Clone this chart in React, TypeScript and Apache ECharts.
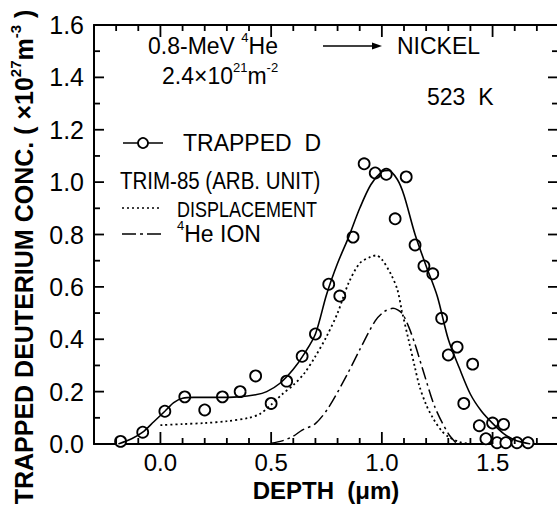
import React, { useEffect, useRef } from "react";
import * as echarts from "echarts";

// Depth (µm) vs. trapped deuterium concentration (10^27 m^-3)
const trappedD: [number, number][] = [
  [-0.18, 0.01], [-0.08, 0.045], [0.02, 0.125], [0.11, 0.18], [0.2, 0.13],
  [0.28, 0.18], [0.36, 0.2], [0.43, 0.26], [0.5, 0.155], [0.57, 0.24],
  [0.64, 0.335], [0.7, 0.42], [0.76, 0.61], [0.81, 0.565], [0.87, 0.79],
  [0.92, 1.07], [0.97, 1.035], [1.02, 1.03], [1.06, 0.86], [1.11, 1.02],
  [1.15, 0.76], [1.19, 0.68], [1.23, 0.65], [1.27, 0.48], [1.3, 0.34],
  [1.34, 0.37], [1.37, 0.155], [1.41, 0.305], [1.44, 0.07], [1.47, 0.02],
  [1.5, 0.08], [1.55, 0.075], [1.52, 0.005], [1.56, 0.005], [1.61, 0.005],
  [1.66, 0.005],
];

// Smooth fit through the measured profile
const fitCurve: [number, number][] = [
  [-0.19, 0.0], [-0.13, 0.02], [-0.08, 0.045], [-0.03, 0.085], [0.02, 0.125],
  [0.06, 0.158], [0.1, 0.175], [0.15, 0.178], [0.25, 0.178], [0.35, 0.18],
  [0.43, 0.188], [0.48, 0.2], [0.54, 0.232], [0.6, 0.285], [0.65, 0.345],
  [0.7, 0.42], [0.75, 0.57], [0.8, 0.69], [0.85, 0.79], [0.9, 0.9],
  [0.95, 0.99], [1.0, 1.04], [1.03, 1.045], [1.07, 1.01], [1.1, 0.95],
  [1.15, 0.8], [1.2, 0.68], [1.25, 0.565], [1.3, 0.4], [1.35, 0.29],
  [1.4, 0.19], [1.45, 0.125], [1.5, 0.079], [1.55, 0.04], [1.6, 0.015],
  [1.67, 0.0],
];

// TRIM-85 displacement profile (arbitrary units)
const displacement: [number, number][] = [
  [0.0, 0.072], [0.1, 0.076], [0.2, 0.08], [0.3, 0.087], [0.4, 0.1],
  [0.45, 0.115], [0.5, 0.15], [0.55, 0.19], [0.6, 0.225], [0.65, 0.27],
  [0.7, 0.335], [0.75, 0.41], [0.8, 0.5], [0.85, 0.615], [0.9, 0.69],
  [0.95, 0.715], [0.975, 0.72], [1.0, 0.705], [1.04, 0.65], [1.07, 0.59],
  [1.09, 0.51], [1.12, 0.4], [1.15, 0.29], [1.17, 0.22], [1.2, 0.15],
  [1.23, 0.1], [1.27, 0.05], [1.3, 0.028], [1.35, 0.008], [1.4, 0.0],
];

// TRIM-85 4He ion range profile (arbitrary units)
const heIon: [number, number][] = [
  [0.5, 0.003], [0.55, 0.012], [0.6, 0.03], [0.64, 0.053], [0.7, 0.078],
  [0.76, 0.14], [0.84, 0.26], [0.9, 0.36], [0.97, 0.47], [1.01, 0.505],
  [1.05, 0.518], [1.09, 0.5], [1.12, 0.45], [1.15, 0.38], [1.19, 0.27],
  [1.24, 0.14], [1.3, 0.04], [1.34, 0.0],
];

// Frame tick positions (every 0.1 µm, every 0.1 in concentration)
const depthTicks = [
  -0.2, -0.1, 0.0, 0.1, 0.2, 0.3, 0.4, 0.5, 0.6, 0.7, 0.8, 0.9, 1.0,
  1.1, 1.2, 1.3, 1.4, 1.5, 1.6, 1.7,
];
const concTicks = [0.1, 0.2, 0.3, 0.4, 0.5, 0.6, 0.7, 0.8, 0.9, 1.0, 1.1, 1.2, 1.3, 1.4, 1.5];

const X_MIN = -0.3;
const X_MAX = 1.8;
const Y_MIN = 0;
const Y_MAX = 1.6;

const FONT = "'Liberation Sans', Arial, Helvetica, sans-serif";

const isHalfStep = (v: number) => Math.abs(v * 2 - Math.round(v * 2)) < 1e-6;
const isFifthStep = (v: number) => Math.abs(v * 5 - Math.round(v * 5)) < 1e-6;

// Inward frame ticks as thin rectangle symbols anchored on the frame
function buildTickItems() {
  const T = 1.8;
  const items: any[] = [];
  depthTicks.forEach((v) => {
    const len = isHalfStep(v) ? 12 : 6;
    items.push({ value: [v, Y_MIN], symbolSize: [T, len], symbolOffset: [0, -len / 2] });
    items.push({ value: [v, Y_MAX], symbolSize: [T, len], symbolOffset: [0, len / 2] });
  });
  concTicks.forEach((v) => {
    const major = isFifthStep(v);
    const l = major ? 10 : 6;
    const r = major ? 11 : 7;
    items.push({ value: [X_MIN, v], symbolSize: [l, T], symbolOffset: [l / 2, 0] });
    items.push({ value: [X_MAX, v], symbolSize: [r, T], symbolOffset: [-r / 2, 0] });
  });
  return items;
}

export default function App() {
  const ref = useRef<HTMLDivElement>(null);

  useEffect(() => {
    if (!ref.current) return;
    const chart = echarts.init(ref.current, undefined, { renderer: "svg" });

    const axisLine = { show: true, onZero: false, lineStyle: { color: "#000", width: 2 } };
    const depthAxis = (position: string, labels: boolean) => ({
      type: "value",
      position,
      min: X_MIN,
      max: X_MAX,
      interval: 0.1,
      axisLine,
      axisTick: { show: false },
      splitLine: { show: false },
      axisLabel: {
        show: labels,
        margin: 6,
        color: "#000",
        fontSize: 24,
        fontFamily: FONT,
        formatter: (v: number) => (isHalfStep(v) ? (Math.abs(v) < 1e-9 ? "0.0" : v.toFixed(1)) : ""),
      },
    });
    const concAxis = (position: string, labels: boolean) => ({
      type: "value",
      position,
      min: Y_MIN,
      max: Y_MAX,
      interval: 0.2,
      axisLine,
      axisTick: { show: false },
      minorTick: { show: false },
      splitLine: { show: false },
      axisLabel: {
        show: labels,
        margin: 10,
        color: "#000",
        fontSize: 25,
        fontFamily: FONT,
        formatter: (v: number) => v.toFixed(1),
      },
    });

    const sup = (size: number, bold = false) => ({
      fontSize: size,
      lineHeight: size + 1,
      fontFamily: FONT,
      fontWeight: bold ? "bold" : "normal",
      color: "#000",
      verticalAlign: "top",
    });
    const base = (size: number, bold = false) => ({
      fontSize: size,
      lineHeight: size + 7,
      fontFamily: FONT,
      fontWeight: bold ? "bold" : "normal",
      color: "#000",
    });

    const labels: any[] = [
      {
        type: "text",
        x: 148,
        y: 46,
        style: {
          text: "{a|0.8-MeV }{s|4}{a|He}",
          verticalAlign: "middle",
          rich: { a: base(23), s: sup(13) },
        },
      },
      { type: "line", shape: { x1: 323, y1: 46, x2: 374, y2: 46 }, style: { stroke: "#000", lineWidth: 1.5 } },
      { type: "polygon", shape: { points: [[382, 46], [372, 42.5], [372, 49.5]] }, style: { fill: "#000" } },
      {
        type: "text",
        x: 397,
        y: 46,
        style: { text: "NICKEL", verticalAlign: "middle", fontSize: 23, fontFamily: FONT, fill: "#000" },
      },
      {
        type: "text",
        x: 162,
        y: 76,
        style: {
          text: "{a|2.4×10}{s|21}{a|m}{s|-2}",
          verticalAlign: "middle",
          rich: { a: base(23), s: sup(13) },
        },
      },
      {
        type: "text",
        x: 427,
        y: 97,
        style: { text: "523  K", verticalAlign: "middle", fontSize: 23, fontFamily: FONT, fill: "#000" },
      },
      { type: "line", shape: { x1: 123, y1: 143, x2: 163, y2: 143 }, style: { stroke: "#000", lineWidth: 1.6 } },
      { type: "circle", shape: { cx: 143, cy: 143, r: 5 }, style: { fill: "#fff", stroke: "#000", lineWidth: 1.8 } },
      {
        type: "text",
        x: 183,
        y: 143,
        style: { text: "TRAPPED  D", verticalAlign: "middle", fontSize: 23, fontFamily: FONT, fill: "#000" },
      },
      {
        type: "text",
        x: 120,
        y: 181,
        scaleY: 1.15,
        style: { text: "TRIM-85 (ARB. UNIT)", verticalAlign: "middle", fontSize: 20.5, fontFamily: FONT, fill: "#000" },
      },
      {
        type: "line",
        shape: { x1: 122, y1: 208, x2: 162, y2: 208 },
        style: { stroke: "#000", lineWidth: 1.6, lineDash: [2, 3] },
      },
      {
        type: "text",
        x: 177,
        y: 209,
        scaleY: 1.2,
        style: { text: "DISPLACEMENT", verticalAlign: "middle", fontSize: 18, fontFamily: FONT, fill: "#000" },
      },
      {
        type: "line",
        shape: { x1: 122, y1: 234, x2: 162, y2: 234 },
        style: { stroke: "#000", lineWidth: 1.5, lineDash: [14, 4, 3, 4] },
      },
      {
        type: "text",
        x: 177,
        y: 234,
        style: {
          text: "{s|4}{a|He ION}",
          verticalAlign: "middle",
          rich: { a: base(23), s: sup(13) },
        },
      },
      {
        type: "text",
        x: 326,
        y: 490,
        style: {
          text: "DEPTH  (μm)",
          align: "center",
          verticalAlign: "middle",
          fontSize: 24,
          fontWeight: "bold",
          fontFamily: FONT,
          fill: "#000",
        },
      },
      {
        type: "text",
        x: 24,
        y: 257,
        rotation: Math.PI / 2,
        style: {
          text: "{b|TRAPPED DEUTERIUM CONC. ( ×10}{s|27}{b|m}{s|-3}{b| )}",
          align: "center",
          verticalAlign: "middle",
          rich: { b: base(25, true), s: sup(15, true) },
        },
      },
    ];

    try {
      chart.setOption({
        animation: false,
        backgroundColor: "#fff",
        grid: { left: 94, top: 25, width: 465, height: 419, containLabel: false, outerBoundsMode: "none" },
        xAxis: [depthAxis("bottom", true), depthAxis("top", false)],
        yAxis: [concAxis("left", true), concAxis("right", false)],
        series: [
          {
            type: "line",
            data: fitCurve,
            smooth: 0.3,
            showSymbol: false,
            lineStyle: { color: "#000", width: 1.6 },
          },
          {
            type: "line",
            data: displacement,
            smooth: 0.3,
            showSymbol: false,
            lineStyle: { color: "#000", width: 1.8, type: [2, 3] },
          },
          {
            type: "line",
            data: heIon,
            smooth: 0.3,
            showSymbol: false,
            lineStyle: { color: "#000", width: 1.5, type: [13, 4, 2.5, 4] },
          },
          {
            type: "scatter",
            data: trappedD,
            symbol: "circle",
            symbolSize: 11,
            itemStyle: { color: "#fff", borderColor: "#000", borderWidth: 1.8, opacity: 1 },
          },
          {
            // frame ticks
            type: "scatter",
            silent: true,
            clip: false,
            z: 10,
            symbol: "rect",
            data: buildTickItems(),
            itemStyle: { color: "#000", opacity: 1 },
          },
        ],
        graphic: labels,
      });
    } catch (e) {
      // keep whatever has been drawn
    }

    return () => chart.dispose();
  }, []);

  return (
    <div
      ref={ref}
      style={{ position: "absolute", left: 0, top: 0, width: 557, height: 512, background: "#fff" }}
    />
  );
}
